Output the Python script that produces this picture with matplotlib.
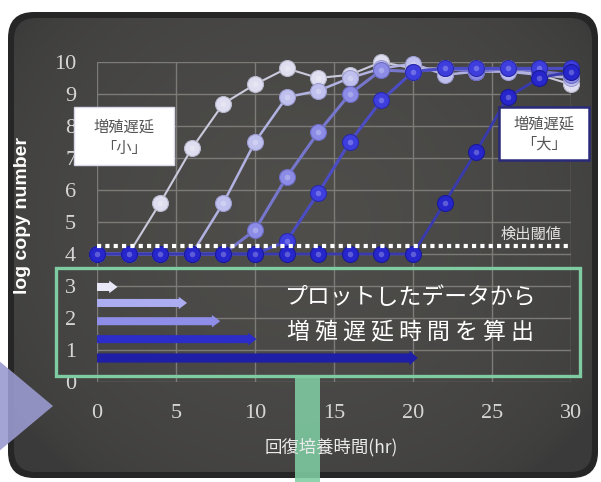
import numpy as np
import matplotlib
matplotlib.use("Agg")
import matplotlib.pyplot as plt
from matplotlib.patches import FancyBboxPatch, Rectangle, Polygon

# ---------------- data ----------------
hours = [0, 2, 4, 6, 8, 10, 12, 14, 16, 18, 20, 22, 24, 26, 28, 30]
s1 = [4.0, 4.0, 5.6, 7.3, 8.7, 9.3, 9.8, 9.5, 9.6, 10.0, 9.8, 9.8, 9.8, 9.8, 9.6, 9.3]
s2 = [4.0, 4.0, 4.0, 4.0, 5.6, 7.5, 8.9, 9.1, 9.5, 9.8, 9.95, 9.6, 9.7, 9.7, 9.6, 9.5]
s3 = [4.0, 4.0, 4.0, 4.0, 4.0, 4.75, 6.4, 7.8, 9.0, 9.75, 9.7, 9.8, 9.7, 9.8, 9.7, 9.6]
s4 = [4.0, 4.0, 4.0, 4.0, 4.0, 4.0, 4.4, 5.9, 7.5, 8.8, 9.7, 9.8, 9.8, 9.8, 9.8, 9.8]
s5 = [4.0, 4.0, 4.0, 4.0, 4.0, 4.0, 4.0, 4.0, 4.0, 4.0, 4.0, 5.6, 7.2, 8.9, 9.5, 9.7]
series = [s1, s2, s3, s4, s5]
lag_times = [1.3, 5.7, 7.8, 10.1, 20.3]
lag_rows = [2.97, 2.47, 1.9, 1.34, 0.75]
threshold = 4.25
xticks = [0, 5, 10, 15, 20, 25, 30]
yticks = list(range(0, 11))

# ---------------- styles ----------------
marker_face = ["#dedef0", "#c0c0ee", "#8c8ce6", "#3e3ede", "#2626cc"]
marker_edge = ["#b8b8cc", "#9c9cd0", "#6c6cc4", "#2a2aa8", "#1a1a98"]
line_col = ["#cacadc", "#b2b2e2", "#7676cc", "#4c4cc4", "#3a3ab0"]
line_w = [1.5, 1.8, 2.2, 2.2, 2.0]
arrow_col = ["#e8e8f8", "#acacf0", "#8e8ee8", "#2c2cc8", "#1e1ea6"]
green = "#7fcca2"

W, H = 601, 482
fig = plt.figure(figsize=(W / 100, H / 100), dpi=100)
fig.patch.set_facecolor("white")

# background axes in pixel coordinates
bg = fig.add_axes([0, 0, 1, 1], zorder=0)
bg.set_xlim(0, W)
bg.set_ylim(H, 0)
bg.axis("off")
outer = FancyBboxPatch((8, 12), 590, 466, boxstyle="round,pad=0,rounding_size=26",
                       facecolor="#262626", edgecolor="none")
bg.add_patch(outer)
inner = FancyBboxPatch((14, 18), 578, 454, boxstyle="round,pad=0,rounding_size=22",
                       facecolor="none", edgecolor="none")
bg.add_patch(inner)
yy, xx = np.mgrid[0:1:200j, 0:1:300j]
r = np.sqrt(((xx - 0.5) / 0.62) ** 2 + ((yy - 0.45) / 0.72) ** 2)
v = np.clip(1 - r, 0, 1)
c0 = np.array([0x3a, 0x3a, 0x3a]) / 255
c1 = np.array([0x4f, 0x4e, 0x4b]) / 255
img = c0[None, None, :] + (c1 - c0)[None, None, :] * v[:, :, None] ** 0.5
im = bg.imshow(img, extent=(14, 592, 472, 18), aspect="auto", zorder=1)
im.set_clip_path(inner)

# ---------------- main axes ----------------
ax = fig.add_axes([97 / W, 1 - 382 / H, 474 / W, 320 / H], zorder=2)
ax.set_facecolor("none")
ax.set_xlim(0, 30)
ax.set_ylim(0, 10)
ax.set_xticks(xticks)
ax.set_yticks(yticks)
for s in ax.spines.values():
    s.set_visible(False)
ax.grid(True, color="#7c7b78", lw=1.0)
ax.set_axisbelow(True)
ax.tick_params(length=0, colors="#d6d6d6", labelsize=16, pad=0)
ax.tick_params(axis="y", pad=15)
ax.tick_params(axis="x", pad=16)
for lab in ax.get_xticklabels() + ax.get_yticklabels():
    lab.set_fontfamily("Liberation Serif")

for i, s in enumerate(series):
    ax.plot(hours, s, color=line_col[i], lw=line_w[i], zorder=3 + i, clip_on=False,
            solid_joinstyle="round")
for i, s in enumerate(series):
    ax.plot(hours, s, ls="none", marker="o", ms=11.5, mfc=marker_face[i],
            mec=marker_edge[i], mew=0.8, zorder=10 + i, clip_on=False)
    ax.plot(hours, s, ls="none", marker="o", ms=4, mfc="white", mec="none",
            alpha=0.25, zorder=10 + i, clip_on=False)

ax.plot([0, 30], [threshold, threshold], color="white", lw=3.0,
        ls=(0, (1.0, 1.0)), zorder=20, clip_on=False)
ax.text(27.5, 4.6, "検出閾値", color="#e2e2e2", fontsize=11,
        family=["Noto Sans CJK JP", "DejaVu Sans"], ha="center", va="center", zorder=21)

# lag arrows
for i, (lt, ry) in enumerate(zip(lag_times, lag_rows)):
    tw = 0.58 if i < 4 else 0.66
    hw = 0.9 if i < 4 else 1.05
    ax.annotate("", xy=(lt, ry), xytext=(0, ry),
                arrowprops=dict(arrowstyle=f"simple,head_length=0.6,head_width={hw},tail_width={tw}",
                                mutation_scale=10, color=arrow_col[i], shrinkA=0, shrinkB=0,
                                lw=0),
                zorder=15)

# ---------------- overlay ----------------
ov = fig.add_axes([0, 0, 1, 1], zorder=5)
ov.set_xlim(0, W)
ov.set_ylim(H, 0)
ov.axis("off")
ov.patch.set_alpha(0)

cjk = ["Noto Sans CJK JP", "DejaVu Sans"]
ov.text(23, 215, "log copy number", rotation=90, color="white", fontsize=14,
        fontweight="bold", family="Liberation Sans", ha="center", va="center")
ov.text(331, 447, "回復培養時間(hr)", color="#ececec", fontsize=12.5,
        family=cjk, ha="center", va="center")

# green box + text
ov.add_patch(Rectangle((56, 268), 524, 108, facecolor="none", edgecolor=green, lw=2.4))
ov.text(410, 298, "プロットしたデータから", color="white", fontsize=16.5, family=cjk,
        ha="center", va="center")
ov.text(410, 333, "増 殖 遅 延 時 間 を 算 出", color="white", fontsize=16.5, family=cjk,
        ha="center", va="center")

# green vertical bar
ov.add_patch(Rectangle((295, 376), 25, 110, facecolor=green, edgecolor="none", alpha=0.88))

# purple triangle
ov.add_patch(Polygon([(-2, 360), (53, 406), (-2, 452)], closed=True,
                     facecolor="#9a9ad0", edgecolor="none", alpha=0.9))

# label boxes
ov.add_patch(Rectangle((74, 107), 100, 58, facecolor="white", edgecolor="#d8d8e8", lw=1))
ov.text(124, 127, "増殖遅延", color="#555555", fontsize=11, family=cjk, ha="center", va="center")
ov.text(124, 148, "「小」", color="#555555", fontsize=11, family=cjk, ha="center", va="center")
ov.add_patch(Rectangle((499, 107), 90, 53, facecolor="white", edgecolor="#2a2a7a", lw=1.8))
ov.text(544, 124, "増殖遅延", color="#555555", fontsize=11, family=cjk, ha="center", va="center")
ov.text(544, 144, "「大」", color="#555555", fontsize=11, family=cjk, ha="center", va="center")

fig.savefig("out.png", dpi=100)
